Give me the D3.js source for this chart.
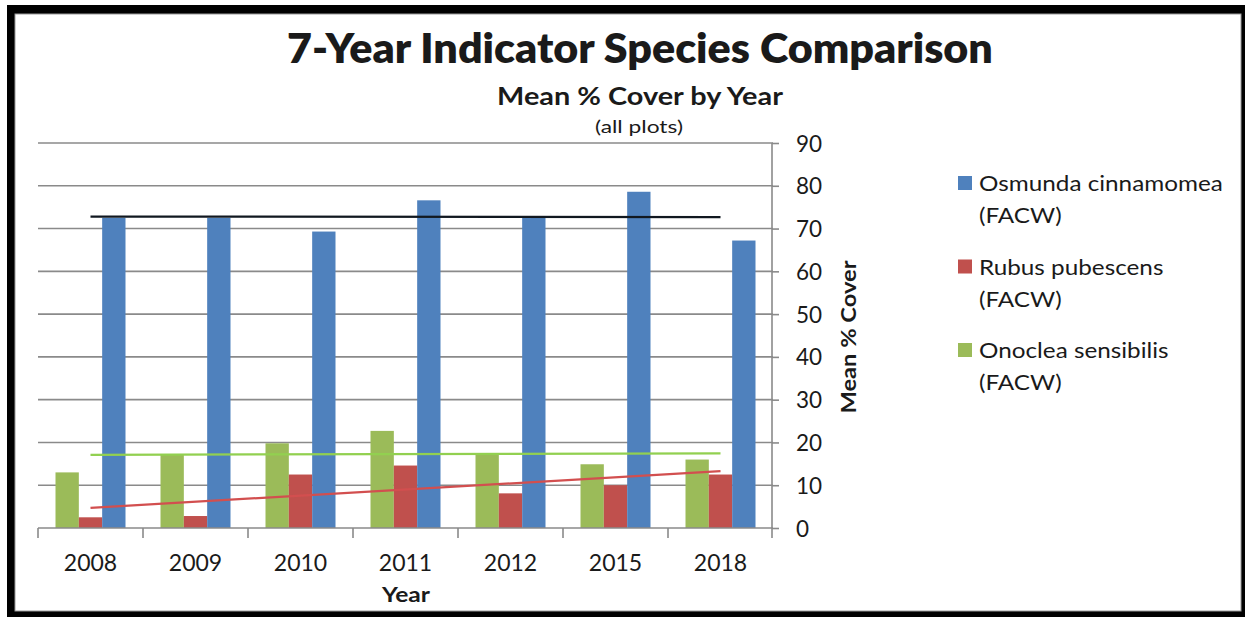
<!DOCTYPE html>
<html>
<head>
<meta charset="utf-8">
<script src="https://cdn.jsdelivr.net/npm/d3@7"></script>
<style>
  html, body { margin: 0; padding: 0; background: #fff; }
  svg { display: block; }
  text { font-family: Lato, "Open Sans", sans-serif; fill: #1a1a1a; }
</style>
</head>
<body>
<svg id="chart" width="1245" height="617"></svg>
<script>
// Survey years (x categories)
const years = ["2008", "2009", "2010", "2011", "2012", "2015", "2018"];

// Mean % cover per year for each indicator species
const osmundaCover = [72.5, 72.5, 69.3, 76.6, 72.5, 78.6, 67.2];
const rubusCover   = [2.5, 2.8, 12.5, 14.6, 8.1, 10.0, 12.5];
const onocleaCover = [13.0, 17.3, 19.8, 22.7, 17.2, 14.9, 16.0];

// Series names as shown in the legend (name, status)
const seriesNames = [
  ["Osmunda cinnamomea", "(FACW)"],
  ["Rubus pubescens", "(FACW)"],
  ["Onoclea sensibilis", "(FACW)"]
];

// Y axis tick labels
const yTicks = [0, 10, 20, 30, 40, 50, 60, 70, 80, 90];

const colors = { osmunda: "#4f81bd", rubus: "#c0504d", onoclea: "#9bbb59" };
const trendColors = { osmunda: "#111820", rubus: "#d24f4f", onoclea: "#92d050" };

const series = [
  { key: "onoclea", values: onocleaCover },
  { key: "rubus", values: rubusCover },
  { key: "osmunda", values: osmundaCover }
];

const svg = d3.select("#chart");

// Frame: heavy black border with a thin grey inner edge
svg.append("rect").attr("x", 7).attr("y", 5).attr("width", 1238).attr("height", 612).attr("fill", "#000");
svg.append("rect").attr("x", 15).attr("y", 14).attr("width", 1226).attr("height", 597)
  .attr("fill", "#fff").attr("stroke", "#9a9a9a").attr("stroke-width", 1);

const plot = { left: 38, right: 773, top: 143, bottom: 528 };

const x = d3.scaleBand().domain(years).range([plot.left, plot.right]).paddingInner(0).paddingOuter(0);
const xs = d3.scaleBand().domain(series.map(s => s.key)).range([0, x.bandwidth()])
  .paddingInner(0).paddingOuter(0.75);
const y = d3.scaleLinear().domain([0, 90]).range([plot.bottom, plot.top]);

// Horizontal gridlines
svg.append("g").selectAll("line").data(yTicks.filter(t => t > 0)).join("line")
  .attr("x1", plot.left).attr("x2", plot.right)
  .attr("y1", d => y(d)).attr("y2", d => y(d))
  .attr("stroke", "#8a8a8a").attr("stroke-width", 1.6);

// Bars
const groups = svg.append("g").selectAll("g").data(series).join("g")
  .attr("fill", d => colors[d.key]);
groups.selectAll("rect").data(s => s.values.map((v, i) => ({ key: s.key, year: years[i], v })))
  .join("rect")
  .attr("x", d => x(d.year) + xs(d.key))
  .attr("width", xs.bandwidth())
  .attr("y", d => y(d.v))
  .attr("height", d => y(0) - y(d.v));

// Linear trend lines (least squares over year index)
function fit(values) {
  const n = values.length;
  const xm = (n - 1) / 2;
  const ym = d3.mean(values);
  let sxy = 0, sxx = 0;
  values.forEach((v, i) => { sxy += (i - xm) * (v - ym); sxx += (i - xm) * (i - xm); });
  const b = sxy / sxx;
  return i => ym + b * (i - xm);
}
const trendOrder = ["osmunda", "rubus", "onoclea"];
trendOrder.forEach(k => {
  const s = series.find(d => d.key === k);
  const f = fit(s.values);
  const last = years.length - 1;
  svg.append("line")
    .attr("x1", x(years[0]) + x.bandwidth() / 2)
    .attr("x2", x(years[last]) + x.bandwidth() / 2)
    .attr("y1", y(f(0))).attr("y2", y(f(last)))
    .attr("stroke", trendColors[k]).attr("stroke-width", 2.2);
});

// Right value axis
const yAxis = d3.axisRight(y).tickValues(yTicks).tickSize(7).tickPadding(17).tickFormat(d3.format("d"));
const gy = svg.append("g").attr("transform", `translate(${plot.right - 1},0)`).call(yAxis);
gy.select(".domain").remove();
gy.selectAll(".tick line").attr("stroke", "#8a8a8a").attr("stroke-width", 1.6);
gy.selectAll(".tick text").attr("font-size", 22.5).attr("fill", "#1a1a1a")
  .attr("font-family", "Lato, sans-serif").attr("dy", "0.36em");
svg.append("line").attr("x1", plot.right - 1).attr("x2", plot.right - 1)
  .attr("y1", plot.top).attr("y2", plot.bottom + 10)
  .attr("stroke", "#8a8a8a").attr("stroke-width", 1.6);

// Bottom category axis
const xAxis = d3.axisBottom(x).tickSize(0).tickPadding(27);
const gx = svg.append("g").attr("transform", `translate(0,${plot.bottom})`).call(xAxis);
gx.select(".domain").remove();
gx.selectAll(".tick text").attr("font-size", 23).attr("fill", "#1a1a1a")
  .attr("font-family", "Lato, sans-serif");
svg.append("line").attr("x1", plot.left).attr("x2", plot.right)
  .attr("y1", plot.bottom).attr("y2", plot.bottom)
  .attr("stroke", "#8a8a8a").attr("stroke-width", 1.6);
const edges = years.map(d => x(d)).concat([x(years[years.length - 1]) + x.bandwidth()]);
svg.append("g").selectAll("line").data(edges.slice(0, -1)).join("line")
  .attr("x1", d => d).attr("x2", d => d)
  .attr("y1", plot.bottom).attr("y2", plot.bottom + 10)
  .attr("stroke", "#8a8a8a").attr("stroke-width", 1.6);

// Text helper: places text with a horizontal scale so it spans a set width
function label(parent, txt, cx, by, size, weight, width, anchor, extra) {
  const g = parent.append("g");
  const t = g.append("text").text(txt).attr("font-size", size).attr("font-weight", weight)
    .attr("text-anchor", anchor || "middle");
  const w = t.node().getComputedTextLength();
  const sx = width ? width / w : 1;
  g.attr("transform", `translate(${cx},${by})${extra || ""} scale(${sx},1)`);
  return sx;
}

// Titles
label(svg, "7-Year Indicator Species Comparison", 640, 63, 42, 800, 706);
label(svg, "Mean % Cover by Year", 640, 105, 24, 700, 286);
label(svg, "(all plots)", 639, 133, 17, 400, 88);
label(svg, "Year", 406, 602, 21, 700, 48);

// Rotated value-axis title
label(svg, "Mean % Cover", 856, 337, 21, 700, 153, "middle", " rotate(-90)");

// Legend
const legend = svg.append("g").attr("transform", "translate(958,176)");
const legendKeys = ["osmunda", "rubus", "onoclea"];
const probe = legend.append("text").text(seriesNames[0][0]).attr("font-size", 22);
const legendScale = 244 / probe.node().getComputedTextLength();
probe.remove();
seriesNames.forEach((nm, i) => {
  const g = legend.append("g").attr("transform", `translate(0,${i * 83.5})`);
  g.append("rect").attr("x", 0).attr("y", 0).attr("width", 14).attr("height", 14)
    .attr("fill", colors[legendKeys[i]]);
  [nm[0], nm[1]].forEach((line, j) => {
    g.append("text").text(line).attr("font-size", 22)
      .attr("transform", `translate(21,${15 + j * 32}) scale(${legendScale},1)`);
  });
});
</script>
</body>
</html>
